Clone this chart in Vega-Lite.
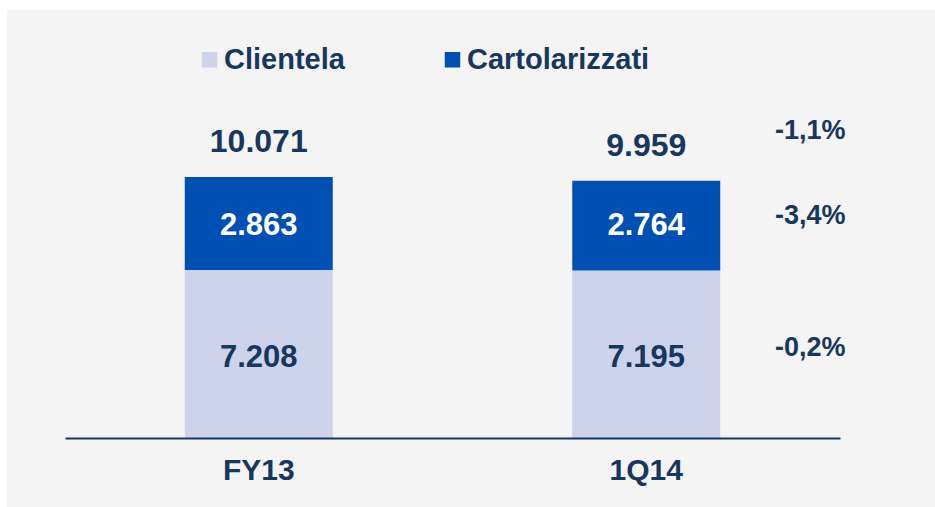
{
  "$schema": "https://vega.github.io/schema/vega-lite/v6.json",
  "autosize": {"type": "none"},
  "width": 928,
  "height": 497,
  "padding": {"left": 7, "top": 10, "right": 0, "bottom": 0},
  "background": "white",
  "config": {
    "view": {"fill": "#f4f4f4", "stroke": null},
    "font": "Liberation Sans",
    "locale": {"number": {"decimal": ",", "thousands": ".", "grouping": [3], "currency": ["€", ""]}}
  },
  "datasets": {
    "segments": [
      {"period": "FY13", "serie": "Clientela", "value": 7208},
      {"period": "FY13", "serie": "Cartolarizzati", "value": 2863},
      {"period": "1Q14", "serie": "Clientela", "value": 7195, "var": "-0,2%"},
      {"period": "1Q14", "serie": "Cartolarizzati", "value": 2764, "var": "-3,4%"}
    ],
    "totals": [
      {"period": "FY13", "total": 10071},
      {"period": "1Q14", "total": 9959, "var": "-1,1%"}
    ]
  },
  "data": {"name": "segments"},
  "transform": [
    {"stack": "value", "groupby": ["period"], "sort": [{"field": "serie", "order": "descending"}], "as": ["v0", "v1"]}
  ],
  "layer": [
    {
      "mark": {"type": "bar", "width": 148},
      "encoding": {
        "x": {
          "field": "period", "type": "nominal", "sort": ["FY13", "1Q14"],
          "scale": {"type": "band", "domain": ["FY13", "1Q14"], "range": [58, 833], "paddingInner": 0, "paddingOuter": 0},
          "axis": {
            "title": null, "orient": "bottom", "offset": -69, "zindex": 1,
            "domainColor": "#17375e", "domainWidth": 2,
            "ticks": false, "tickSize": 0,
            "labelFont": "Liberation Sans", "labelFontSize": 30, "labelFontWeight": "bold",
            "labelColor": "#17375e", "labelPadding": 41, "labelBaseline": "alphabetic", "labelAngle": 0
          }
        },
        "y": {
          "field": "v1", "type": "quantitative",
          "scale": {"domain": [2040, 15209], "range": [428, 0], "clamp": true, "zero": false, "nice": false},
          "axis": null
        },
        "y2": {"field": "v0"},
        "color": {
          "field": "serie", "type": "nominal",
          "scale": {"domain": ["Clientela", "Cartolarizzati"], "range": ["#cdd3eb", "#0050b4"]},
          "legend": {
            "title": null, "orient": "none", "direction": "horizontal",
            "legendX": 188, "legendY": 35,
            "symbolType": "square", "symbolSize": 240, "symbolStrokeWidth": 0,
            "labelFont": "Liberation Sans", "labelFontSize": 29, "labelFontWeight": "bold",
            "labelColor": "#17375e", "labelOffset": 0, "columnPadding": 93, "labelLimit": 400
          }
        }
      }
    },
    {
      "transform": [{"filter": "datum.serie === 'Clientela'"}],
      "mark": {"type": "text", "align": "center", "baseline": "alphabetic", "dy": 97, "fontSize": 31, "fontWeight": "bold", "color": "#17375e", "font": "Liberation Sans"},
      "encoding": {
        "x": {"field": "period", "type": "nominal"},
        "y": {"field": "v1", "type": "quantitative"},
        "text": {"field": "value", "type": "quantitative", "format": ",.0f"}
      }
    },
    {
      "transform": [{"filter": "datum.serie === 'Cartolarizzati'"}],
      "mark": {"type": "text", "align": "center", "baseline": "alphabetic", "dy": -35, "fontSize": 31, "fontWeight": "bold", "color": "white", "font": "Liberation Sans"},
      "encoding": {
        "x": {"field": "period", "type": "nominal"},
        "y": {"field": "v0", "type": "quantitative"},
        "text": {"field": "value", "type": "quantitative", "format": ",.0f"}
      }
    },
    {
      "transform": [{"filter": "datum.serie === 'Clientela' && isValid(datum.var)"}],
      "mark": {"type": "text", "align": "center", "baseline": "alphabetic", "dx": 164, "dy": 86, "fontSize": 27, "fontWeight": "bold", "color": "#17375e", "font": "Liberation Sans"},
      "encoding": {
        "x": {"field": "period", "type": "nominal"},
        "y": {"field": "v1", "type": "quantitative"},
        "text": {"field": "var", "type": "nominal"}
      }
    },
    {
      "transform": [{"filter": "datum.serie === 'Cartolarizzati' && isValid(datum.var)"}],
      "mark": {"type": "text", "align": "center", "baseline": "alphabetic", "dx": 164, "dy": -46, "fontSize": 27, "fontWeight": "bold", "color": "#17375e", "font": "Liberation Sans"},
      "encoding": {
        "x": {"field": "period", "type": "nominal"},
        "y": {"field": "v0", "type": "quantitative"},
        "text": {"field": "var", "type": "nominal"}
      }
    },
    {
      "data": {"name": "totals"},
      "transform": [],
      "mark": {"type": "text", "align": "center", "baseline": "alphabetic", "dy": -25, "fontSize": 32, "fontWeight": "bold", "color": "#17375e", "font": "Liberation Sans"},
      "encoding": {
        "x": {"field": "period", "type": "nominal"},
        "y": {"field": "total", "type": "quantitative"},
        "text": {"field": "total", "type": "quantitative", "format": ",.0f"}
      }
    },
    {
      "data": {"name": "totals"},
      "transform": [{"filter": "isValid(datum.var)"}],
      "mark": {"type": "text", "align": "center", "baseline": "alphabetic", "dx": 164, "dy": -42, "fontSize": 27, "fontWeight": "bold", "color": "#17375e", "font": "Liberation Sans"},
      "encoding": {
        "x": {"field": "period", "type": "nominal"},
        "y": {"field": "total", "type": "quantitative"},
        "text": {"field": "var", "type": "nominal"}
      }
    }
  ]
}
